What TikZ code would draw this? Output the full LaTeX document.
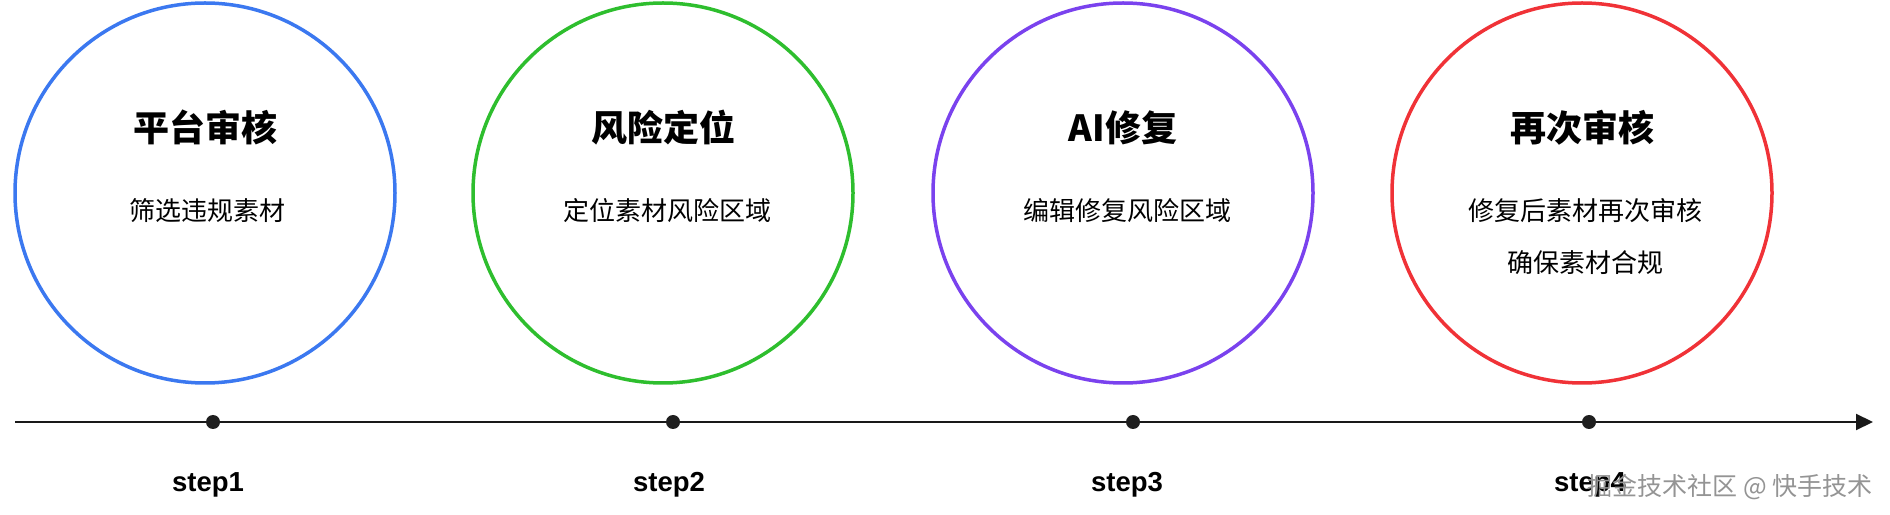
\documentclass[tikz,border=0pt]{standalone}
\usepackage{fontspec}
\setmainfont{Liberation Sans}
\newfontfamily\cjk{Noto Sans CJK SC}
\usetikzlibrary{arrows.meta, positioning}
\definecolor{ringblue}{HTML}{3B78F0}
\definecolor{ringgreen}{HTML}{2EBE2E}
\definecolor{ringpurple}{HTML}{7A42EE}
\definecolor{ringred}{HTML}{F03237}

\begin{document}
\begin{tikzpicture}[x=1pt, y=1pt,
    ring/.style={circle, draw, line width=3.5pt, minimum size=380pt, inner sep=0pt},
    headtext/.style={font=\cjk\bfseries\fontsize{36}{40}\selectfont, inner sep=0pt, anchor=base},
    desctext/.style={font=\cjk\fontsize{26}{30}\selectfont, inner sep=0pt, anchor=base},
    stepdot/.style={circle, fill=black!88, inner sep=0pt, minimum size=14pt},
    steplabel/.style={font=\bfseries\fontsize{27.5}{30}\selectfont, inner sep=0pt, anchor=base}]

    % canvas
    \fill[white] (0,0) rectangle (1890,514);
    \useasboundingbox (0,0) rectangle (1890,514);

    % Step 1
    \node[ring, draw=ringblue] (c1) at (205,321) {};
    \node[headtext] (h1) at (205,372) {平台审核};
    \node[desctext] (d1) at (207,293) {筛选违规素材};

    % Step 2
    \node[ring, draw=ringgreen] (c2) at (663,321) {};
    \node[headtext] (h2) at (663,372) {风险定位};
    \node[desctext] (d2) at (667,293) {定位素材风险区域};

    % Step 3
    \node[ring, draw=ringpurple] (c3) at (1123,321) {};
    \node[headtext] (h3) at (1123,372) {AI修复};
    \node[desctext] (d3) at (1127,293) {编辑修复风险区域};

    % Step 4
    \node[ring, draw=ringred] (c4) at (1582,321) {};
    \node[headtext] (h4) at (1582,372) {再次审核};
    \node[desctext] (d4) at (1585,293) {修复后素材再次审核};
    \node[desctext] (d4b) at (1585,241) {确保素材合规};

    % Timeline
    \coordinate (axisstart) at (15,92);
    \coordinate (axisend) at (1873,92);
    \draw[line width=2pt, black!90, -{Triangle[length=17pt, width=16pt]}] (axisstart) -- (axisend);

    \node[stepdot] (p1) at (213,92) {};
    \node[stepdot] (p2) at (673,92) {};
    \node[stepdot] (p3) at (1133,92) {};
    \node[stepdot] (p4) at (1589,92) {};

    \node[steplabel] (s1) at (208,22) {step1};
    \node[steplabel] (s2) at (669,22) {step2};
    \node[steplabel] (s3) at (1127,22) {step3};
    \node[steplabel] (s4) at (1590,22) {step4};

    % watermark
    \node[font=\cjk\fontsize{25}{25}\selectfont, text=black!42, inner sep=0pt, anchor=base east] (mark) at (1873,19) {掘金技术社区 @ 快手技术};
\end{tikzpicture}
\end{document}
